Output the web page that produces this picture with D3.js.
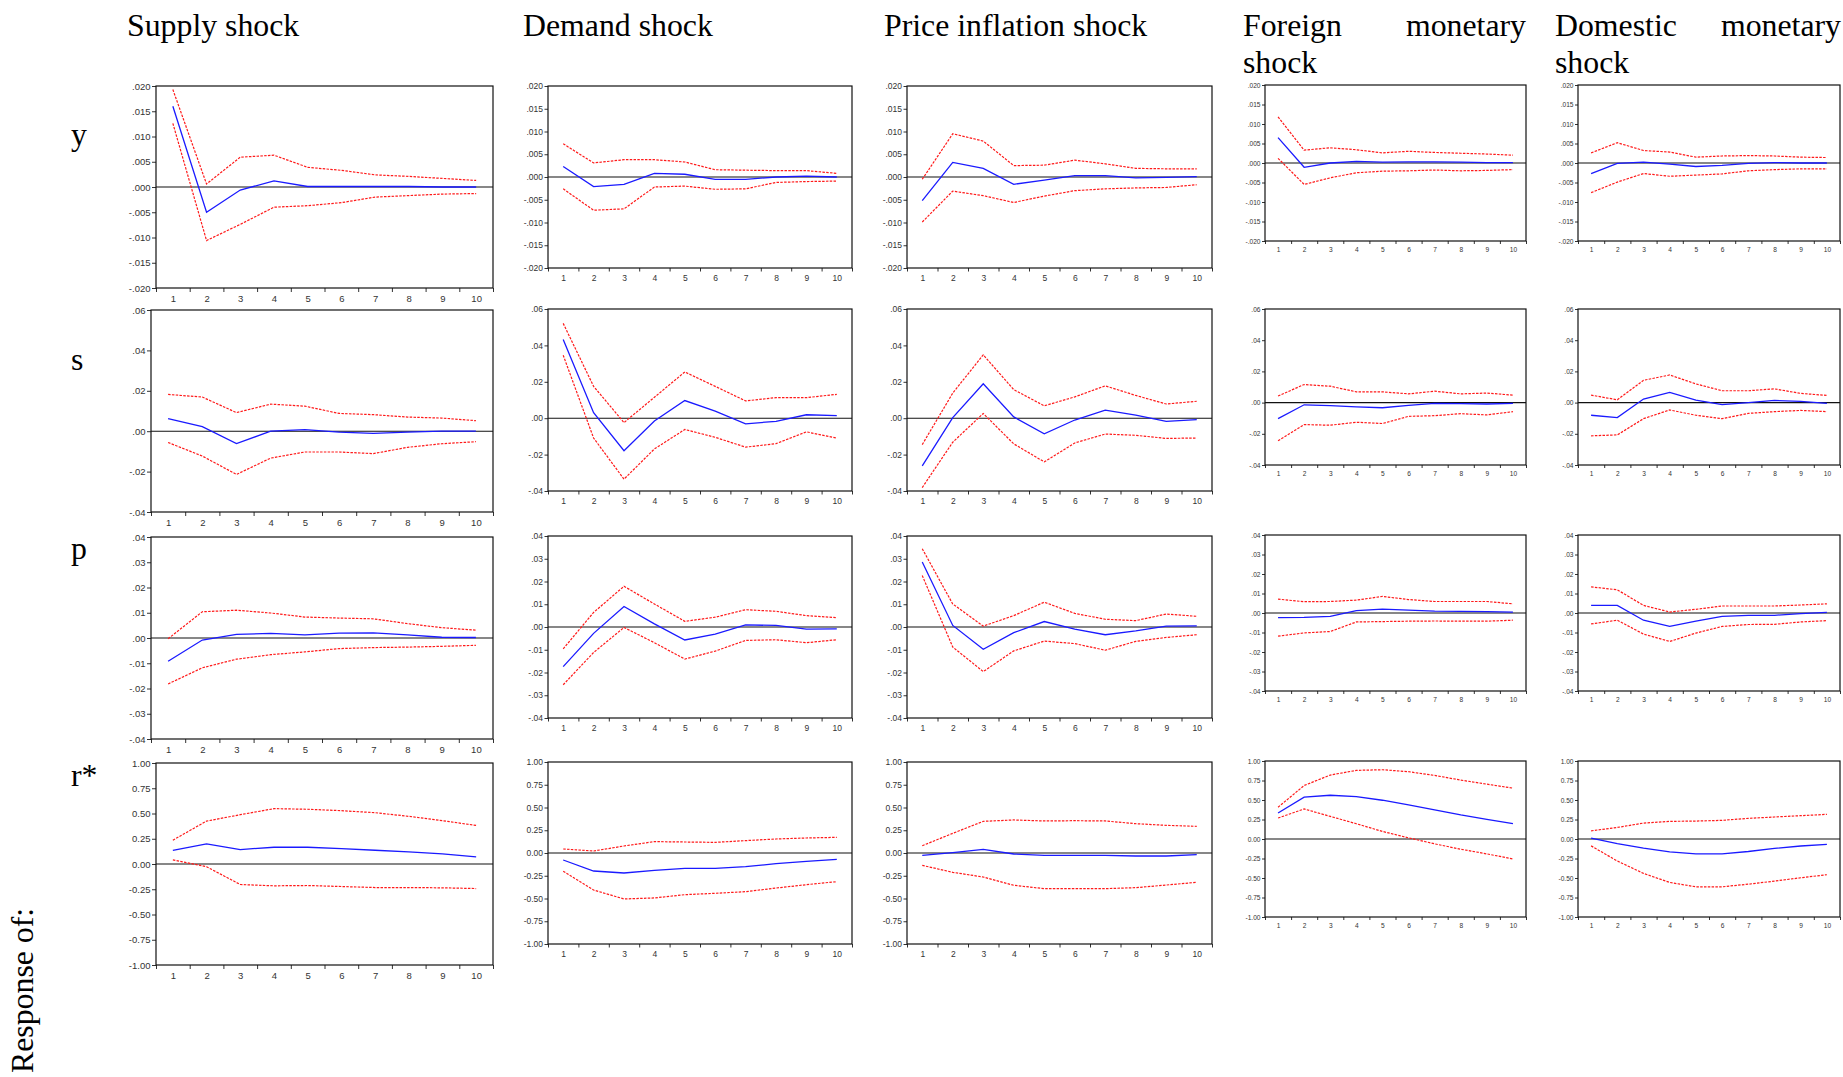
<!DOCTYPE html>
<html><head><meta charset="utf-8">
<script src="https://cdn.jsdelivr.net/npm/d3@7/dist/d3.min.js"></script>
<style>
html,body{margin:0;padding:0;background:#fff;}
svg{display:block;}
</style></head>
<body>
<svg id="chart" width="1843" height="1077"></svg>
<script>
// ---------- DATA ----------
const shocks = ["Supply shock", "Demand shock", "Price inflation shock", "Foreign monetary shock", "Domestic monetary shock"];
const responses = ["y", "s", "p", "r*"];
const periods = [1, 2, 3, 4, 5, 6, 7, 8, 9, 10];

// y-axis ticks per response row
const yTickVals_y = [0.02, 0.015, 0.01, 0.005, 0, -0.005, -0.01, -0.015, -0.02];
const yTickLab_y = [".020", ".015", ".010", ".005", ".000", "-.005", "-.010", "-.015", "-.020"];
const yTickVals_s = [0.06, 0.04, 0.02, 0, -0.02, -0.04];
const yTickLab_s = [".06", ".04", ".02", ".00", "-.02", "-.04"];
const yTickVals_p = [0.04, 0.03, 0.02, 0.01, 0, -0.01, -0.02, -0.03, -0.04];
const yTickLab_p = [".04", ".03", ".02", ".01", ".00", "-.01", "-.02", "-.03", "-.04"];
const yTickVals_r = [1, 0.75, 0.5, 0.25, 0, -0.25, -0.5, -0.75, -1];
const yTickLab_r = ["1.00", "0.75", "0.50", "0.25", "0.00", "-0.25", "-0.50", "-0.75", "-1.00"];

// Response of y (rows: supply, demand, price, foreign, domestic)
const irf_y = [
  [0.0160, -0.0050, -0.0006, 0.0012, 0.0001, 0.0001, 0.0001, 0.0001, 0.0000, 0.0000],
  [0.0023, -0.0021, -0.0016, 0.0008, 0.0006, -0.0005, -0.0005, 0.0000, 0.0002, 0.0000],
  [-0.0052, 0.0032, 0.0019, -0.0016, -0.0007, 0.0003, 0.0003, -0.0002, -0.0001, 0.0001],
  [0.0065, -0.0011, 0.0000, 0.0004, 0.0002, 0.0003, 0.0003, 0.0002, 0.0001, 0.0001],
  [-0.0027, -0.0001, 0.0002, -0.0003, -0.0009, -0.0006, -0.0001, 0.0001, 0.0000, 0.0000]
];
const hi_y = [
  [0.0193, 0.0006, 0.0059, 0.0063, 0.0039, 0.0033, 0.0024, 0.0021, 0.0017, 0.0013],
  [0.0073, 0.0031, 0.0038, 0.0038, 0.0033, 0.0016, 0.0015, 0.0014, 0.0014, 0.0008],
  [-0.0005, 0.0095, 0.0079, 0.0025, 0.0026, 0.0037, 0.0029, 0.0019, 0.0018, 0.0018],
  [0.0118, 0.0033, 0.0039, 0.0034, 0.0026, 0.0030, 0.0027, 0.0025, 0.0023, 0.0020],
  [0.0026, 0.0052, 0.0032, 0.0028, 0.0015, 0.0018, 0.0019, 0.0018, 0.0015, 0.0014]
];
const lo_y = [
  [0.0126, -0.0106, -0.0074, -0.0040, -0.0037, -0.0031, -0.0020, -0.0017, -0.0014, -0.0013],
  [-0.0026, -0.0073, -0.0070, -0.0022, -0.0020, -0.0027, -0.0026, -0.0012, -0.0010, -0.0009],
  [-0.0099, -0.0031, -0.0041, -0.0056, -0.0042, -0.0030, -0.0026, -0.0024, -0.0023, -0.0017],
  [0.0012, -0.0055, -0.0038, -0.0025, -0.0021, -0.0020, -0.0018, -0.0020, -0.0019, -0.0017],
  [-0.0076, -0.0049, -0.0027, -0.0034, -0.0031, -0.0028, -0.0020, -0.0017, -0.0015, -0.0015]
];

// Response of s
const irf_s = [
  [0.0062, 0.0023, -0.0061, 0.0000, 0.0008, -0.0005, -0.0011, -0.0005, 0.0000, 0.0000],
  [0.0432, 0.0030, -0.0179, -0.0015, 0.0097, 0.0039, -0.0031, -0.0017, 0.0019, 0.0014],
  [-0.0262, 0.0003, 0.0189, 0.0007, -0.0086, -0.0010, 0.0044, 0.0017, -0.0017, -0.0008],
  [-0.0103, -0.0014, -0.0020, -0.0028, -0.0033, -0.0018, -0.0005, -0.0007, -0.0009, -0.0005],
  [-0.0081, -0.0096, 0.0023, 0.0065, 0.0016, -0.0013, 0.0000, 0.0014, 0.0008, -0.0005]
];
const hi_s = [
  [0.0182, 0.0169, 0.0092, 0.0134, 0.0124, 0.0088, 0.0082, 0.0070, 0.0065, 0.0052],
  [0.0521, 0.0175, -0.0024, 0.0115, 0.0254, 0.0175, 0.0095, 0.0113, 0.0113, 0.0131],
  [-0.0145, 0.0138, 0.0348, 0.0157, 0.0068, 0.0117, 0.0178, 0.0125, 0.0078, 0.0093],
  [0.0042, 0.0116, 0.0105, 0.0069, 0.0069, 0.0056, 0.0073, 0.0056, 0.0061, 0.0048],
  [0.0048, 0.0018, 0.0143, 0.0177, 0.0120, 0.0076, 0.0076, 0.0088, 0.0059, 0.0046]
];
const lo_s = [
  [-0.0056, -0.0123, -0.0214, -0.0133, -0.0103, -0.0103, -0.0111, -0.0080, -0.0062, -0.0052],
  [0.0346, -0.0109, -0.0335, -0.0169, -0.0062, -0.0105, -0.0159, -0.0140, -0.0075, -0.0109],
  [-0.0381, -0.0132, 0.0026, -0.0141, -0.0240, -0.0136, -0.0087, -0.0094, -0.0111, -0.0109],
  [-0.0245, -0.0141, -0.0145, -0.0126, -0.0134, -0.0088, -0.0084, -0.0071, -0.0079, -0.0058],
  [-0.0213, -0.0207, -0.0103, -0.0047, -0.0081, -0.0103, -0.0069, -0.0058, -0.0050, -0.0058]
];

// Response of p
const irf_p = [
  [-0.0092, -0.0008, 0.0014, 0.0018, 0.0012, 0.0019, 0.0020, 0.0012, 0.0003, 0.0002],
  [-0.0174, -0.0028, 0.0090, 0.0014, -0.0057, -0.0031, 0.0009, 0.0007, -0.0009, -0.0008],
  [0.0286, 0.0007, -0.0098, -0.0025, 0.0024, -0.0009, -0.0034, -0.0017, 0.0004, 0.0005],
  [-0.0024, -0.0022, -0.0017, 0.0012, 0.0020, 0.0015, 0.0010, 0.0008, 0.0007, 0.0005],
  [0.0039, 0.0039, -0.0037, -0.0069, -0.0042, -0.0017, -0.0012, -0.0012, -0.0003, 0.0003]
];
const hi_p = [
  [-0.0003, 0.0104, 0.0110, 0.0099, 0.0083, 0.0079, 0.0076, 0.0057, 0.0041, 0.0031],
  [-0.0096, 0.0064, 0.0179, 0.0101, 0.0025, 0.0043, 0.0076, 0.0069, 0.0050, 0.0041],
  [0.0344, 0.0101, 0.0004, 0.0050, 0.0109, 0.0060, 0.0034, 0.0028, 0.0057, 0.0047],
  [0.0071, 0.0058, 0.0059, 0.0066, 0.0085, 0.0069, 0.0059, 0.0059, 0.0059, 0.0047],
  [0.0134, 0.0119, 0.0039, 0.0005, 0.0019, 0.0036, 0.0036, 0.0036, 0.0041, 0.0047]
];
const lo_p = [
  [-0.0182, -0.0118, -0.0084, -0.0066, -0.0055, -0.0042, -0.0038, -0.0036, -0.0033, -0.0029],
  [-0.0254, -0.0112, -0.0002, -0.0069, -0.0141, -0.0106, -0.0059, -0.0056, -0.0069, -0.0056],
  [0.0226, -0.0088, -0.0196, -0.0105, -0.0062, -0.0073, -0.0102, -0.0063, -0.0046, -0.0034],
  [-0.0119, -0.0102, -0.0095, -0.0046, -0.0044, -0.0042, -0.0041, -0.0042, -0.0042, -0.0037],
  [-0.0056, -0.0037, -0.0108, -0.0146, -0.0103, -0.0069, -0.0059, -0.0058, -0.0046, -0.0039]
];

// Response of r*
const irf_r = [
  [0.136, 0.200, 0.143, 0.166, 0.166, 0.153, 0.136, 0.120, 0.100, 0.070],
  [-0.077, -0.198, -0.220, -0.190, -0.168, -0.168, -0.150, -0.117, -0.092, -0.070],
  [-0.026, 0.004, 0.040, -0.011, -0.026, -0.026, -0.026, -0.033, -0.033, -0.018],
  [0.333, 0.536, 0.561, 0.544, 0.497, 0.437, 0.372, 0.308, 0.252, 0.196],
  [0.011, -0.058, -0.118, -0.165, -0.190, -0.190, -0.160, -0.120, -0.090, -0.070]
];
const hi_r = [
  [0.236, 0.425, 0.488, 0.548, 0.542, 0.528, 0.508, 0.472, 0.429, 0.382],
  [0.044, 0.022, 0.077, 0.125, 0.121, 0.117, 0.136, 0.154, 0.165, 0.172],
  [0.080, 0.216, 0.348, 0.363, 0.352, 0.355, 0.352, 0.322, 0.304, 0.293],
  [0.407, 0.686, 0.820, 0.880, 0.888, 0.863, 0.815, 0.755, 0.703, 0.652],
  [0.105, 0.148, 0.204, 0.226, 0.230, 0.239, 0.265, 0.282, 0.299, 0.316]
];
const lo_r = [
  [0.040, -0.027, -0.203, -0.216, -0.213, -0.223, -0.233, -0.233, -0.236, -0.243],
  [-0.200, -0.407, -0.505, -0.494, -0.458, -0.443, -0.425, -0.385, -0.348, -0.315],
  [-0.136, -0.212, -0.264, -0.355, -0.392, -0.392, -0.392, -0.381, -0.352, -0.322],
  [0.269, 0.385, 0.290, 0.196, 0.097, 0.015, -0.062, -0.131, -0.191, -0.256],
  [-0.088, -0.282, -0.441, -0.557, -0.613, -0.613, -0.579, -0.540, -0.497, -0.458]
];

// ---------- LAYOUT ----------
const rowsDef = [
  {irf: irf_y, hi: hi_y, lo: lo_y, ticks: yTickVals_y, labs: yTickLab_y, dom: [-0.02, 0.02]},
  {irf: irf_s, hi: hi_s, lo: lo_s, ticks: yTickVals_s, labs: yTickLab_s, dom: [-0.04, 0.06]},
  {irf: irf_p, hi: hi_p, lo: lo_p, ticks: yTickVals_p, labs: yTickLab_p, dom: [-0.04, 0.04]},
  {irf: irf_r, hi: hi_r, lo: lo_r, ticks: yTickVals_r, labs: yTickLab_r, dom: [-1, 1]}
];
const colRight = [493, 852, 1212, 1526, 1840];
const colLeft = [[156, 548, 907, 1265, 1578],
                 [151, 548, 907, 1265, 1578],
                 [151, 548, 907, 1265, 1578],
                 [156, 548, 907, 1265, 1578]];
const groupOf = [0, 1, 1, 2, 2];
const rowTop = [[86, 86, 85], [310, 309, 309], [537, 536, 535], [763, 762, 761]];
const panelH = [202, 182, 156];
const fontSz = [9.5, 8.5, 6.6];
const tickLen = [4, 3.5, 3];

const svg = d3.select("#chart");
const serif = "'Liberation Serif','Times New Roman',serif";
const sans = "'Liberation Sans',Arial,sans-serif";

// Column titles
const titleSize = 31.8;
svg.append("text").attr("x", 127).attr("y", 36).attr("font-family", serif).attr("font-size", titleSize).text(shocks[0]);
svg.append("text").attr("x", 523).attr("y", 36).attr("font-family", serif).attr("font-size", titleSize).text(shocks[1]);
svg.append("text").attr("x", 884).attr("y", 36).attr("font-family", serif).attr("font-size", titleSize).text(shocks[2]);
function twoLineTitle(title, x0, x1) {
  const w = title.split(" ");
  svg.append("text").attr("x", x0).attr("y", 36).attr("font-family", serif).attr("font-size", titleSize).text(w[0]);
  svg.append("text").attr("x", x1).attr("y", 36).attr("text-anchor", "end").attr("font-family", serif).attr("font-size", titleSize).text(w[1]);
  svg.append("text").attr("x", x0).attr("y", 73).attr("font-family", serif).attr("font-size", titleSize).text(w[2]);
}
twoLineTitle(shocks[3], 1243, 1526);
twoLineTitle(shocks[4], 1555, 1841);

// Row labels
const rowLabelY = [145, 370, 559, 786];
responses.forEach((r, i) => {
  svg.append("text").attr("x", 71).attr("y", rowLabelY[i]).attr("font-family", serif).attr("font-size", titleSize).text(r);
});
svg.append("text").attr("transform", "translate(33,1073) rotate(-90)")
  .attr("font-family", serif).attr("font-size", titleSize).text("Response of:");

// Panels
rowsDef.forEach((rd, ri) => {
  shocks.forEach((sh, ci) => {
    const g = groupOf[ci];
    const L = colLeft[ri][ci], R = colRight[ci];
    const T = rowTop[ri][g], B = T + panelH[g];
    const fs = fontSz[g], tl = tickLen[g];
    const x = d3.scaleLinear().domain([0.5, 10.5]).range([L, R]);
    const y = d3.scaleLinear().domain(rd.dom).range([B, T]);
    const pg = svg.append("g");

    // y axis
    const ya = pg.append("g").attr("transform", `translate(${L},0)`)
      .call(d3.axisLeft(y).tickValues(rd.ticks).tickFormat((d, i) => rd.labs[i]).tickSize(tl).tickPadding(1.5));
    ya.select(".domain").remove();
    ya.selectAll("text").attr("font-family", sans).attr("font-size", fs).attr("fill", "#333");
    ya.selectAll("line").attr("stroke", "#333");

    // x axis ticks (band edges)
    const edges = d3.range(0.5, 11, 1);
    const xt = pg.append("g").attr("transform", `translate(0,${B})`)
      .call(d3.axisBottom(x).tickValues(edges).tickFormat("").tickSize(tl));
    xt.select(".domain").remove();
    xt.selectAll("line").attr("stroke", "#333");
    const xl = pg.append("g").attr("transform", `translate(0,${B})`)
      .call(d3.axisBottom(x).tickValues(periods).tickFormat(d3.format("d")).tickSize(0).tickPadding(tl + 3));
    xl.select(".domain").remove();
    xl.selectAll("text").attr("font-family", sans).attr("font-size", fs).attr("fill", "#333");

    // zero line
    pg.append("line").attr("x1", L).attr("x2", R).attr("y1", y(0)).attr("y2", y(0))
      .attr("stroke", "#111").attr("stroke-width", 1.1);

    const line = d3.line().x((d, i) => x(periods[i])).y(d => y(d));
    pg.append("path").datum(rd.hi[ci]).attr("d", line).attr("fill", "none")
      .attr("stroke", "#ff1a1a").attr("stroke-width", 1.2).attr("stroke-dasharray", "2.5,1.3");
    pg.append("path").datum(rd.lo[ci]).attr("d", line).attr("fill", "none")
      .attr("stroke", "#ff1a1a").attr("stroke-width", 1.2).attr("stroke-dasharray", "2.5,1.3");
    pg.append("path").datum(rd.irf[ci]).attr("d", line).attr("fill", "none")
      .attr("stroke", "#1a1aff").attr("stroke-width", 1.3);

    // box
    pg.append("rect").attr("x", L).attr("y", T).attr("width", R - L).attr("height", B - T)
      .attr("fill", "none").attr("stroke", "#111").attr("stroke-width", 1.2);
  });
});
</script>
</body></html>
